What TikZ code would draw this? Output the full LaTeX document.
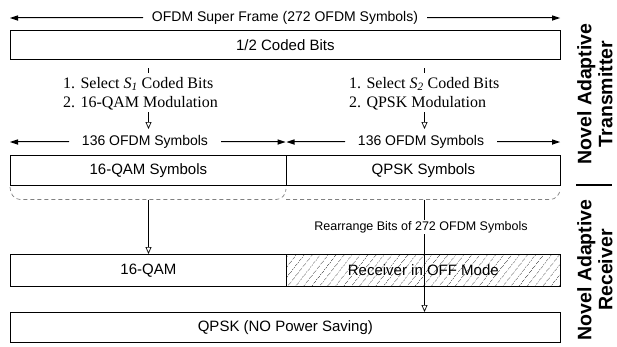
\documentclass[tikz,border=0pt]{standalone}
\usepackage{fontspec}
\setmainfont{Liberation Serif}
\setsansfont{Liberation Sans}
\usetikzlibrary{arrows.meta,patterns.meta}
\begin{document}
\begin{tikzpicture}[x=1pt,y=-1pt,
  lbl/.style={font=\sffamily\fontsize{14}{16.8}\selectfont, inner sep=0pt},
  boxtxt/.style={font=\sffamily\fontsize{15}{18}\selectfont},
  bar/.style={draw=black, line width=0.7pt, anchor=north west, inner sep=0pt},
  spanline/.style={draw=black, line width=1pt},
  spantip/.style={fill=black, draw=none},
  openarr/.style={draw=black, line width=0.7pt, arrows={-Triangle[open,length=7pt,width=6pt]}},
  brace/.style={draw=gray, line width=0.7pt, dash pattern=on 4pt off 3pt},
  serif/.style={font=\rmfamily\fontsize{16}{19.2}\selectfont, align=left, anchor=west, inner sep=0pt},
  side/.style={font=\sffamily\bfseries\fontsize{19.5}{21}\selectfont, rotate=90, align=center, inner sep=0pt}]
\useasboundingbox (0,0) rectangle (617,346);

% super frame
\node[lbl] (sf) at (285,18) {OFDM Super Frame (272 OFDM Symbols)};
\coordinate (sfa) at (143,18);
\coordinate (sfb) at (427,18);
\coordinate (sfL) at (10,18);
\coordinate (sfR) at (560,18);
\fill[spanline] (sfa) ++(0,-0.5) rectangle ([xshift=6pt,yshift=0.5pt]sfL);
\fill[spanline] (sfb) ++(0,-0.5) rectangle ([xshift=-6pt,yshift=0.5pt]sfR);
\fill[spantip] (sfL) -- ++(8,-2.75) -- ++(0,5.5) -- cycle;
\fill[spantip] (sfR) -- ++(-8,-2.75) -- ++(0,5.5) -- cycle;

% coded bits
\node[bar, minimum width=550pt, minimum height=29pt, boxtxt] (cb) at (10,30) {1/2 Coded Bits};
\coordinate (t1a) at (148.5,68); \coordinate (t1b) at (148.5,73);
\coordinate (t2a) at (424.5,68); \coordinate (t2b) at (424.5,73);
\draw[line width=0.7pt] (t1a) -- (t1b);
\draw[line width=0.7pt] (t2a) -- (t2b);

\node[serif] (s1) at (63,93.5) {1. Select \textit{S}\textsubscript{\textit{1}} Coded Bits\\2. 16-QAM Modulation};
\node[serif] (s2) at (349,93.5) {1. Select \textit{S}\textsubscript{\textit{2}} Coded Bits\\2. QPSK Modulation};

\coordinate (a1s) at (148.5,112); \coordinate (a1e) at (148.5,129);
\coordinate (a2s) at (424.5,112); \coordinate (a2e) at (424.5,129);
\draw[openarr] (a1s) -- (a1e);
\draw[openarr] (a2s) -- (a2e);

% 136 spans
\node[lbl] (h1) at (145,142) {136 OFDM Symbols};
\node[lbl] (h2) at (421,142) {136 OFDM Symbols};
\coordinate (h1a) at (69,142); \coordinate (h1b) at (221,142);
\coordinate (h2a) at (345,142); \coordinate (h2b) at (497,142);
\coordinate (h1L) at (10,142); \coordinate (h1R) at (285.5,142);
\coordinate (h2L) at (286.5,142); \coordinate (h2R) at (560,142);
\fill[spanline] (h1a) ++(0,-0.5) rectangle ([xshift=6pt,yshift=0.5pt]h1L);
\fill[spanline] (h1b) ++(0,-0.5) rectangle ([xshift=-6pt,yshift=0.5pt]h1R);
\fill[spanline] (h2a) ++(0,-0.5) rectangle ([xshift=6pt,yshift=0.5pt]h2L);
\fill[spanline] (h2b) ++(0,-0.5) rectangle ([xshift=-6pt,yshift=0.5pt]h2R);
\fill[spantip] (h1L) -- ++(8,-2.75) -- ++(0,5.5) -- cycle;
\fill[spantip] (h1R) -- ++(-8,-2.75) -- ++(0,5.5) -- cycle;
\fill[spantip] (h2L) -- ++(8,-2.75) -- ++(0,5.5) -- cycle;
\fill[spantip] (h2R) -- ++(-8,-2.75) -- ++(0,5.5) -- cycle;

% symbol boxes
\node[bar, minimum width=276pt, minimum height=30pt, boxtxt] (qam) at (10,155) {16-QAM Symbols};
\node[bar, minimum width=274pt, minimum height=30pt, boxtxt] (qpsk) at (286,155) {QPSK Symbols};

% braces
\coordinate (b1) at (148.5,199.5);
\coordinate (b2) at (424.5,199.5);
\draw[brace] (10,187) to[out=-90,in=180] (20,199.5) -- (b1) -- (276,199.5) to[out=0,in=-90] (286,189);
\draw[brace] (286,199.5) -- (b2) -- (550,199.5) to[out=0,in=-90] (560,189);

% receiver rows
\node[bar, minimum width=276pt, minimum height=32pt, boxtxt] (rq) at (10,254) {16-QAM};
\node[bar, minimum width=274pt, minimum height=32pt, boxtxt,
  pattern={Lines[angle=52,distance=6.5pt,line width=0.6pt]}, pattern color=gray!85!black] (off) at (286,254) {Receiver in OFF Mode};
\node[bar, minimum width=550pt, minimum height=30pt, boxtxt] (np) at (10,312) {QPSK (NO Power Saving)};

\draw[openarr] (b1) -- (b1 |- rq.north);
\draw[openarr] (b2) -- (b2 |- np.north);
\node[font=\sffamily\fontsize{12.5}{15}\selectfont, fill=white, inner xsep=0pt, inner ysep=1.5pt] (ra) at (421,227) {Rearrange Bits of 272 OFDM Symbols};

% side labels
\node[side] (tx) at (595,94) {Novel Adaptive\\Transmitter};
\node[side] (rx) at (595,270) {Novel Adaptive\\Receiver};
\coordinate (sepA) at (576,185); \coordinate (sepB) at (612,185);
\draw[line width=2pt] (sepA) -- (sepB);
\end{tikzpicture}
\end{document}
